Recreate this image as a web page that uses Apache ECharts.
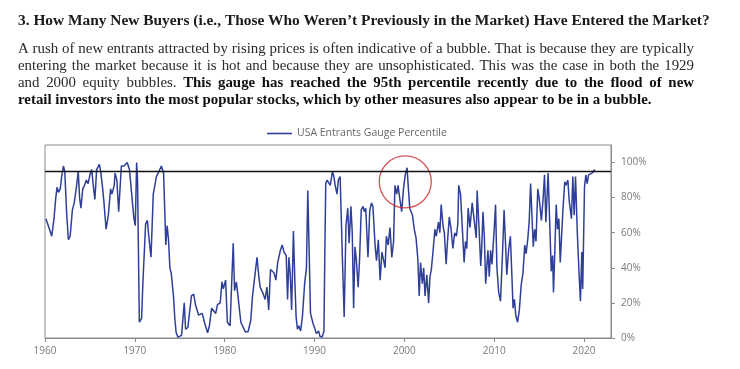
<!DOCTYPE html>
<html><head><meta charset="utf-8">
<script src="https://cdn.jsdelivr.net/npm/echarts@6/dist/echarts.min.js"></script>
<style>html,body{margin:0;padding:0;background:#fff}#c{width:740px;height:369px}</style>
</head><body><div id="c"></div><script>
const titleText = "3. How Many New Buyers (i.e., Those Who Weren\u2019t Previously in the Market) Have Entered the Market?";
const paraNormal1 = "A rush of new entrants attracted by rising prices is often indicative of a bubble. That is because they are typically";
const paraNormal2 = "entering the market because it is hot and because they are unsophisticated. This was the case in both the 1929";
const paraNormal3 = "and 2000 equity bubbles.";
const paraBold3 = "This gauge has reached the 95th percentile recently due to the flood of new";
const paraBold4 = "retail investors into the most popular stocks, which by other measures also appear to be in a bubble.";
const seriesName = "USA Entrants Gauge Percentile";
const thresholdLevel = [95];
const circleCenter = [2000.1, 89];

const years = [
1960.1,1960.3,1960.5,1960.75,1961.0,1961.2,1961.35,1961.5,1961.7,1961.85,
1962.05,1962.2,1962.4,1962.6,1962.8,1963.05,1963.25,1963.5,1963.7,1963.85,
1964.0,1964.2,1964.4,1964.6,1964.8,1965.0,1965.2,1965.35,1965.55,1965.75,
1966.05,1966.2,1966.4,1966.55,1966.8,1967.05,1967.3,1967.45,1967.7,1967.8,
1968.0,1968.2,1968.5,1968.8,1969.15,1969.4,1969.65,1969.9,1970.05,1970.2,
1970.3,1970.5,1970.75,1970.9,1971.2,1971.4,1971.55,1971.8,1972.05,1972.4,
1972.6,1972.95,1973.2,1973.45,1973.6,1973.75,1973.9,1974.05,1974.3,1974.45,
1974.6,1974.8,1975.2,1975.5,1975.65,1975.9,1976.3,1976.55,1976.75,1977.1,
1977.3,1977.5,1977.8,1978.1,1978.3,1978.55,1978.75,1979.0,1979.2,1979.5,
1979.7,1979.85,1980.1,1980.3,1980.6,1980.8,1980.95,1981.1,1981.3,1981.5,
1981.8,1982.0,1982.3,1982.6,1982.9,1983.1,1983.3,1983.6,1983.8,1983.95,
1984.1,1984.3,1984.5,1984.7,1984.9,1985.1,1985.3,1985.5,1985.7,1985.9,
1986.2,1986.4,1986.6,1986.85,1987.0,1987.15,1987.3,1987.45,1987.65,1987.8,
1987.95,1988.1,1988.25,1988.45,1988.65,1988.9,1989.1,1989.25,1989.4,1989.55,
1989.85,1990.0,1990.2,1990.45,1990.6,1990.85,1991.05,1991.15,1991.25,1991.4,
1991.55,1991.75,1992.0,1992.15,1992.3,1992.5,1992.65,1992.85,1993.1,1993.3,
1993.5,1993.7,1993.85,1994.05,1994.2,1994.35,1994.5,1994.65,1994.85,1995.0,
1995.2,1995.4,1995.55,1995.7,1995.95,1996.15,1996.35,1996.5,1996.75,1996.9,
1997.1,1997.3,1997.5,1997.7,1997.85,1998.0,1998.2,1998.4,1998.6,1998.8,
1998.95,1999.15,1999.3,1999.5,1999.7,1999.9,2000.1,2000.3,2000.45,2000.6,
2000.9,2001.1,2001.3,2001.5,2001.65,2001.8,2002.0,2002.15,2002.3,2002.5,
2002.7,2002.85,2003.0,2003.2,2003.4,2003.55,2003.8,2003.95,2004.1,2004.3,
2004.45,2004.65,2004.8,2005.0,2005.2,2005.4,2005.6,2005.8,2005.95,2006.05,
2006.25,2006.5,2006.65,2006.8,2006.95,2007.1,2007.3,2007.55,2007.75,2008.0,
2008.1,2008.3,2008.5,2008.6,2008.75,2008.9,2009.05,2009.3,2009.45,2009.6,
2009.75,2010.0,2010.15,2010.3,2010.5,2010.7,2010.9,2011.1,2011.25,2011.4,
2011.6,2011.8,2011.95,2012.1,2012.25,2012.4,2012.6,2012.8,2013.0,2013.2,
2013.4,2013.55,2013.75,2013.9,2014.05,2014.2,2014.35,2014.5,2014.65,2014.85,
2015.0,2015.25,2015.45,2015.6,2015.75,2016.0,2016.15,2016.35,2016.5,2016.6,
2016.75,2016.9,2017.05,2017.2,2017.35,2017.5,2017.65,2017.85,2018.0,2018.2,
2018.35,2018.5,2018.6,2018.75,2018.9,2019.05,2019.25,2019.45,2019.6,2019.75,
2019.85,2020.05,2020.2,2020.35,2020.5,2020.7,2020.9,2021.2
];
const values = [
68,67,62,58,68,80,86,83,85,92,
98,95,72,56,58,73,77,86,95,80,
74,85,87,90,88,93,96,88,79,96,
99,95,86,78,62,70,85,82,87,94,
90,72,98,98,100,96,82,68,64,100,
90,9,11,32,65,67,58,46,82,92,
94,98,94,53,64,56,40,37,24,11,
3,0.5,1.5,20,5,6,24,25,19,13,
12,14,8,3,7,17,16,14,19,20,
32,28,33,9,7,34,54,27,32,23,
9,8,3.5,3.5,10,24,33,46,35,29,
30,25,22,29,16,39,38,37,33,43,
50,53,49,47,22,46,36,16,61,34,
12,5,7,4,12,31,40,84,50,14,
8,6,2.5,4,1,0.6,4,50,88,90,
89,87,95,92,87,82,90,92,46,12,
64,74,54,75,60,17,52,45,29,43,
73,75,72,74,46,73,77,75,52,44,
56,33,49,44,40,58,53,63,46,55,
87,82,87,79,72,85,93,97,85,74,
70,62,57,45,24,43,31,40,24,36,
20,35,39,50,62,58,66,60,76,64,
60,42,55,69,62,51,60,58,65,87,
82,58,43,55,51,74,63,77,68,57,
84,64,41,50,72,58,31,50,35,50,
42,62,76,40,26,21,45,73,55,36,
50,58,38,17,22,13,9,16,30,37,
53,48,57,67,88,70,52,62,55,85,
80,67,80,93,66,94,70,38,47,26,
50,76,62,68,43,58,73,89,87,90,
78,79,68,92,70,92,60,36,21,49,
28,86,93,88,93,93,94,96
];
const xMin = 1960, xMax = 2023, xStep = 10;
const yMin = 0, yMax = 110, yStep = 20;

const chart = echarts.init(document.getElementById('c'), null, {renderer: 'canvas'});
const lineData = years.map((y, i) => [y, values[i]]);
const axisGray = '#8a8a8a';
const labelGray = '#7a7a7a';
const fontN = '14.9px "Liberation Serif", serif';
const fontB = 'bold 14.9px "Liberation Serif", serif';

// justified paragraph, one text element per word
const measureCtx = document.createElement('canvas').getContext('2d');
function wordsOf(text, bold) { return text.split(' ').filter(w => w).map(w => ({w, bold})); }
function lineElems(words, top, justify, leftX, rightX) {
  const widths = words.map(o => { measureCtx.font = o.bold ? fontB : fontN; return measureCtx.measureText(o.w).width; });
  const total = widths.reduce((a, b) => a + b, 0);
  measureCtx.font = fontN;
  const natSpace = measureCtx.measureText(' ').width;
  const gap = justify ? (rightX - leftX - total) / (words.length - 1) : natSpace;
  let x = leftX;
  return words.map((o, i) => {
    const el = {type: 'text', left: x, top: top, style: {text: o.w, font: o.bold ? fontB : fontN, fill: o.bold ? '#111' : '#2a2a2a'}};
    x += widths[i] + gap;
    return el;
  });
}
const paraLines = [
  wordsOf(paraNormal1, false),
  wordsOf(paraNormal2, false),
  wordsOf(paraNormal3, false).concat(wordsOf(paraBold3, true)),
  wordsOf(paraBold4, true)
];
const paraElems = [];
paraLines.forEach((ws, i) => {
  paraElems.push(...lineElems(ws, 42 + i * 17, i < 3, 18, 694));
});

chart.setOption({
  animation: false,
  graphic: [
    {type: 'text', left: 18, top: 14, style: {text: titleText, font: 'bold 15.4px "Liberation Serif", serif', fill: '#1a1a1a'}}
  ].concat(paraElems),
  legend: {
    data: [seriesName],
    top: 123, left: 262,
    icon: 'rect',
    itemWidth: 25, itemHeight: 1.6, itemGap: 6,
    textStyle: {fontFamily: 'Open Sans', fontSize: 10.5, color: '#666'}
  },
  grid: {left: 45, right: 129, top: 145, bottom: 31, show: true, borderColor: axisGray, borderWidth: 1},
  xAxis: {
    type: 'value', min: xMin, max: xMax, interval: xStep,
    axisLine: {show: true, lineStyle: {color: axisGray}},
    axisTick: {show: true, length: 4, lineStyle: {color: axisGray}},
    axisLabel: {formatter: v => String(v), color: labelGray, fontFamily: 'Open Sans', fontSize: 10, margin: 8, showMaxLabel: false},
    splitLine: {show: false}
  },
  yAxis: {
    type: 'value', position: 'right', min: yMin, max: yMax, interval: yStep,
    axisLine: {show: true, lineStyle: {color: axisGray}},
    axisTick: {show: true, length: 4, lineStyle: {color: axisGray}},
    axisLabel: {formatter: v => v + '%', color: labelGray, fontFamily: 'Open Sans', fontSize: 10, margin: 10, showMaxLabel: false},
    splitLine: {show: false}
  },
  series: [
    {
      name: seriesName, type: 'line', data: lineData, symbol: 'none',
      lineStyle: {color: '#2f3f98', width: 1.5}, itemStyle: {color: '#2f3f98'},
      z: 3,
      markLine: {
        silent: true, symbol: 'none', label: {show: false},
        lineStyle: {color: '#111', width: 1.4, type: 'solid'},
        data: thresholdLevel.map(v => ({yAxis: v}))
      }
    },
    {
      name: 'circle', type: 'scatter', data: [circleCenter], symbol: 'circle', symbolSize: 52,
      itemStyle: {color: 'rgba(0,0,0,0)', borderColor: '#c8282d', borderWidth: 1.3}, z: 4, silent: true
    }
  ]
});
</script></body></html>
